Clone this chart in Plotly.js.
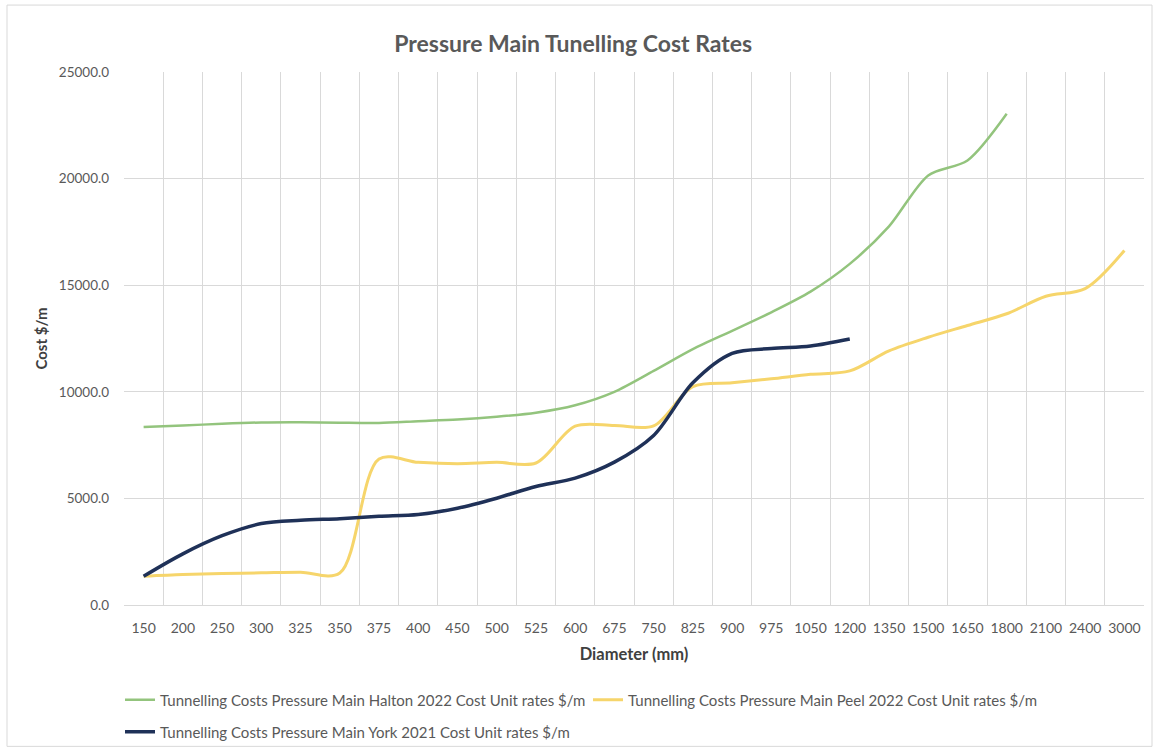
<!DOCTYPE html>
<html>
<head>
<meta charset="utf-8">
<script src="https://cdn.plot.ly/plotly-3.0.1.min.js"></script>
<style>html,body{margin:0;padding:0;background:#fff;}#chart{width:1158px;height:753px;}</style>
</head>
<body>
<div id="chart"></div>
<script>
const diameters = ["150","200","250","300","325","350","375","400","450","500","525","600","675","750","825","900","975","1050","1200","1350","1500","1650","1800","2100","2400","3000"];
const halton2022 = [8350, 8420, 8500, 8560, 8570, 8550, 8540, 8620, 8700, 8830, 9020, 9370, 10000, 10980, 12000, 12860, 13730, 14700, 16000, 17760, 20150, 20850, 23040, null, null, null];
const peel2022 = [1350, 1430, 1476, 1508, 1540, 1500, 6850, 6690, 6630, 6690, 6660, 8390, 8420, 8400, 10240, 10420, 10610, 10820, 10980, 11920, 12560, 13110, 13660, 14480, 14840, 16630];
const york2021 = [1350, 2400, 3250, 3820, 3975, 4050, 4160, 4245, 4540, 5010, 5560, 5950, 6700, 7950, 10420, 11800, 12030, 12150, 12480, null, null, null, null, null, null, null];
const seriesNames = [
  "Tunnelling Costs Pressure Main Halton 2022 Cost Unit rates $/m",
  "Tunnelling Costs Pressure Main Peel 2022 Cost Unit rates $/m",
  "Tunnelling Costs Pressure Main York 2021 Cost Unit rates $/m"
];
const yTicks = [0, 5000, 10000, 15000, 20000, 25000];

const FONT = "Lato, 'Open Sans', 'Liberation Sans', sans-serif";

const traces = [
  {x: diameters, y: halton2022, name: seriesNames[0], type: "scatter", mode: "lines",
   line: {color: "#93c47d", width: 2.5, shape: "spline", smoothing: 0.8}, legend: "legend"},
  {x: diameters, y: peel2022, name: seriesNames[1], type: "scatter", mode: "lines",
   line: {color: "#f6d56b", width: 3, shape: "spline", smoothing: 0.9}, legend: "legend3"},
  {x: diameters, y: york2021, name: seriesNames[2], type: "scatter", mode: "lines",
   line: {color: "#1f3158", width: 3.5, shape: "spline", smoothing: 0.9}, legend: "legend2"}
];

const W = 1158, H = 753;
const L = 124, R = 1144, T = 72, B = 605.5;
const px = v => (v - L) / (R - L);
const py = v => (B - v) / (B - T);
const cx = v => v / W;
const cy = v => 1 - v / H;

const legendStyle = (x, y) => ({
  orientation: "h", x: cx(x), xref: "container", xanchor: "left", y: cy(y), yref: "container", yanchor: "middle",
  font: {family: FONT, size: 15, color: "#595959"}, bgcolor: "rgba(0,0,0,0)", itemwidth: 30
});

const layout = {
  width: W, height: H,
  margin: {l: L, r: W - R, t: T, b: H - B},
  paper_bgcolor: "#ffffff", plot_bgcolor: "#ffffff",
  font: {family: FONT, color: "#595959", size: 13},
  title: {text: "Pressure Main Tunelling Cost Rates", x: 0.495, xref: "container", xanchor: "center",
          y: cy(44), yref: "container", yanchor: "middle",
          font: {family: FONT, size: 23, color: "#595959", weight: "bold"}},
  xaxis: {
    type: "category", tickson: "boundaries", range: [-0.5, diameters.length - 0.5],
    automargin: false, tickangle: 0,
    showgrid: true, gridcolor: "#d9d9d9", gridwidth: 1,
    showline: true, linecolor: "#d9d9d9", linewidth: 1, ticks: "", ticklabelstandoff: 10,
    tickfont: {family: FONT, size: 14, color: "#595959"}, zeroline: false,
    title: {text: "Diameter (mm)", standoff: 13, font: {family: FONT, size: 16.5, color: "#404040", weight: "bold"}}
  },
  yaxis: {
    range: [0, 25000], tickvals: yTicks, tickformat: ".1f", showgrid: true, gridcolor: "#d9d9d9",
    automargin: false,
    gridwidth: 1, zeroline: false, showline: false, ticks: "", ticklabelstandoff: 14,
    tickfont: {family: FONT, size: 13.5, color: "#595959"},
    title: {text: "Cost $/m", standoff: 7, font: {family: FONT, size: 15, color: "#404040", weight: "bold"}}
  },
  showlegend: true,
  legend: legendStyle(120, 700),
  legend3: legendStyle(588, 700),
  legend2: legendStyle(120, 732),
  shapes: [
    {type: "rect", xref: "paper", yref: "paper", x0: px(7), x1: px(1152), y0: py(747), y1: py(5),
     line: {color: "#d9d9d9", width: 1}, fillcolor: "rgba(0,0,0,0)", layer: "below"}
  ]
};

Plotly.newPlot("chart", traces, layout, {displayModeBar: false, staticPlot: true});
</script>
</body>
</html>
